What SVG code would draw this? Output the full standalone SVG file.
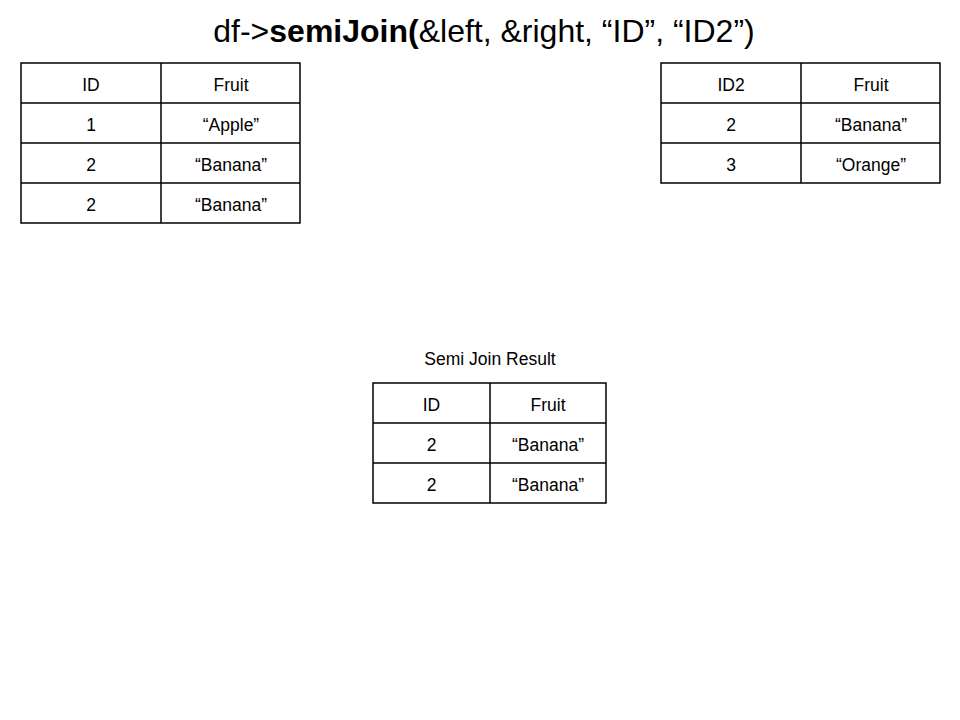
<svg xmlns="http://www.w3.org/2000/svg" width="960" height="720" viewBox="0 0 960 720">
<style>
.g{fill:none;stroke:#000;stroke-width:1.5}
text{font-family:"Liberation Sans",Arial,sans-serif;fill:#000}
.c{font-size:17.5px;text-anchor:middle;dominant-baseline:central}
.t{font-size:32px}
.l{font-size:17.5px;text-anchor:middle}
</style>
<rect width="960" height="720" fill="#fff"/>
<text class="t" x="484" y="42" text-anchor="middle">df-&gt;<tspan font-weight="bold">semiJoin(</tspan>&amp;left, &amp;right, “ID”, “ID2”)</text>
<g id="left-table">
<path class="g" d="M21 63H300V223H21Z M161 63V223 M21 103H300 M21 143H300 M21 183H300"/>
<text class="c" x="91" y="85">ID</text>
<text class="c" x="231" y="85">Fruit</text>
<text class="c" x="91" y="125">1</text>
<text class="c" x="231" y="125">“Apple”</text>
<text class="c" x="91" y="165">2</text>
<text class="c" x="231" y="165">“Banana”</text>
<text class="c" x="91" y="205">2</text>
<text class="c" x="231" y="205">“Banana”</text>
</g>
<g id="right-table">
<path class="g" d="M661 63H940V183H661Z M801 63V183 M661 103H940 M661 143H940"/>
<text class="c" x="731" y="85">ID2</text>
<text class="c" x="871" y="85">Fruit</text>
<text class="c" x="731" y="125">2</text>
<text class="c" x="871" y="125">“Banana”</text>
<text class="c" x="731" y="165">3</text>
<text class="c" x="871" y="165">“Orange”</text>
</g>
<g id="result-table">
<text class="l" x="490" y="365">Semi Join Result</text>
<path class="g" d="M373 383H606V503H373Z M490 383V503 M373 423H606 M373 463H606"/>
<text class="c" x="431.5" y="405">ID</text>
<text class="c" x="548" y="405">Fruit</text>
<text class="c" x="431.5" y="445">2</text>
<text class="c" x="548" y="445">“Banana”</text>
<text class="c" x="431.5" y="485">2</text>
<text class="c" x="548" y="485">“Banana”</text>
</g>
<g id="connectors"/>
</svg>
